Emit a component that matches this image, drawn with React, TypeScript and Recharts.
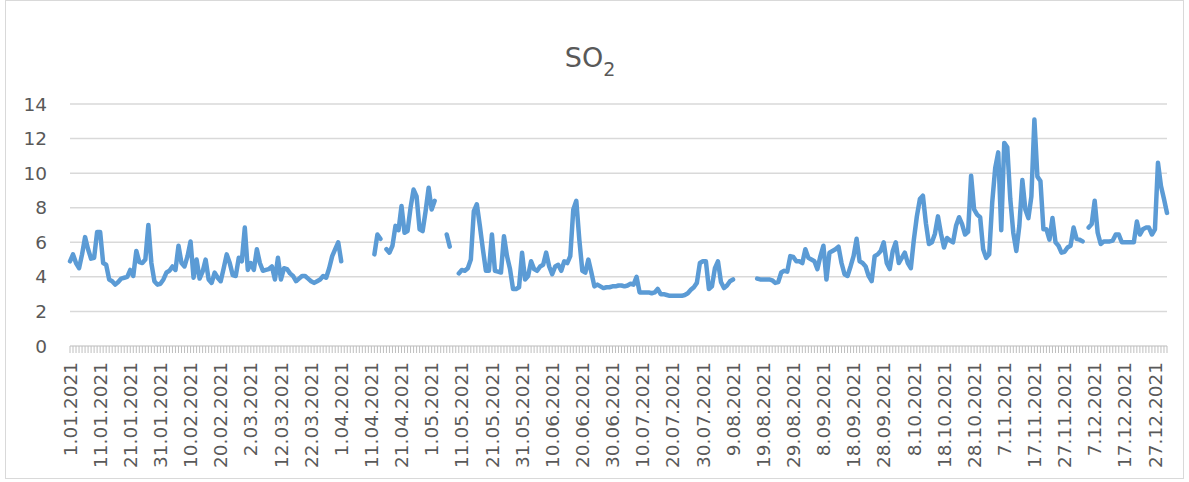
import { LineChart, Line, XAxis, YAxis, CartesianGrid } from "recharts";

// daily SO2 readings for 2021, null where the station has no data
const jan = [4.9, 5.3, 4.8, 4.5, 5.3, 6.3, 5.6, 5.05, 5.1, 6.6, 6.6, 4.8, 4.7, 3.85, 3.75, 3.55, 3.7, 3.9, 3.95, 4.0, 4.4, 4.05, 5.5, 4.85, 4.8, 5.0, 7.0, 4.8, 3.75, 3.55, 3.6];
const feb = [3.85, 4.25, 4.35, 4.6, 4.4, 5.8, 4.8, 4.6, 5.2, 6.05, 3.95, 5.0, 3.9, 4.3, 5.0, 3.85, 3.65, 4.25, 3.95, 3.75, 4.5, 5.3, 4.8, 4.1, 4.05, 5.1, 4.9, 6.85];
const mar = [4.4, 4.8, 4.4, 5.6, 4.8, 4.35, 4.4, 4.45, 4.6, 3.85, 5.1, 3.85, 4.5, 4.45, 4.2, 4.05, 3.75, 3.9, 4.05, 4.05, 3.9, 3.75, 3.65, 3.75, 3.85, 4.05, 3.95, 4.5, 5.2, 5.6, 6.0];
const apr = [4.9, null, null, null, null, null, null, null, null, null, null, 5.3, 6.45, 6.2, null, 5.6, 5.4, 5.8, 6.95, 6.7, 8.1, 6.55, 6.65, 8.0, 9.05, 8.65, 6.75, 6.65, 7.8, 9.15];
const may = [7.9, 8.4, null, null, null, 6.45, 5.75, null, null, 4.2, 4.4, 4.35, 4.5, 5.0, 7.8, 8.2, 6.95, 5.6, 4.35, 4.35, 6.45, 4.35, 4.3, 4.25, 6.35, 5.2, 4.45, 3.3, 3.3, 3.4, 5.4];
const jun = [3.85, 4.05, 4.9, 4.45, 4.35, 4.6, 4.7, 5.4, 4.6, 4.15, 4.6, 4.7, 4.35, 4.9, 4.8, 5.2, 7.9, 8.4, 6.15, 4.35, 4.25, 5.0, 4.25, 3.45, 3.55, 3.45, 3.35, 3.4, 3.4, 3.45];
const jul = [3.45, 3.5, 3.5, 3.45, 3.5, 3.6, 3.55, 4.0, 3.1, 3.1, 3.1, 3.1, 3.05, 3.1, 3.3, 3.0, 3.0, 2.95, 2.9, 2.9, 2.9, 2.9, 2.9, 2.95, 3.05, 3.25, 3.4, 3.65, 4.8, 4.9, 4.9];
const aug = [3.3, 3.45, 4.5, 4.9, 3.7, 3.35, 3.5, 3.75, 3.85, null, null, null, null, null, null, null, 3.9, 3.85, 3.85, 3.85, 3.85, 3.8, 3.65, 3.7, 4.25, 4.35, 4.3, 5.2, 5.15, 4.9, 4.9];
const sep = [4.8, 5.6, 5.1, 5.0, 4.9, 4.45, 5.2, 5.8, 3.85, 5.4, 5.5, 5.6, 5.75, 4.8, 4.15, 4.05, 4.6, 5.2, 6.2, 4.9, 4.8, 4.6, 4.05, 3.75, 5.2, 5.3, 5.5, 6.0, 4.8, 4.45];
const oct = [5.5, 6.0, 4.8, 5.1, 5.4, 4.8, 4.5, 6.15, 7.5, 8.5, 8.7, 7.1, 5.9, 6.0, 6.5, 7.5, 6.5, 5.7, 6.25, 6.1, 6.0, 6.95, 7.45, 7.05, 6.45, 6.6, 9.85, 7.9, 7.6, 7.45, 5.6];
const nov = [5.1, 5.3, 8.3, 10.3, 11.2, 6.7, 11.75, 11.5, 8.5, 6.55, 5.5, 6.95, 9.6, 7.9, 7.4, 8.65, 13.1, 9.8, 9.55, 6.75, 6.75, 6.15, 7.4, 6.0, 5.8, 5.4, 5.45, 5.7, 5.8, 6.85];
const dec = [6.2, 6.15, 6.05, null, 6.85, 7.05, 8.4, 6.55, 5.9, 6.05, 6.05, 6.05, 6.1, 6.45, 6.45, 6.0, 6.0, 6.0, 6.0, 6.0, 7.2, 6.45, 6.75, 6.85, 6.85, 6.45, 6.75, 10.6, 9.25, 8.5, 7.7];

const months = [jan, feb, mar, apr, may, jun, jul, aug, sep, oct, nov, dec];
const yTicks = [0, 2, 4, 6, 8, 10, 12, 14];

// category labels like "1.01.2021"
const dates: string[] = [];
months.forEach((m, mi) => {
  m.forEach((_, di) => {
    dates.push(`${di + 1}.${String(mi + 1).padStart(2, "0")}.2021`);
  });
});
const so2 = months.flat();
const data = dates.map((d, i) => ({ date: d, so2: so2[i] }));

const FONT = "DejaVu Sans";
const GREY = "#595959";

function DateTick(props: any) {
  const { x, y, payload } = props;
  const idx = props.index ?? payload.index;
  if (idx % 10 !== 0) return <g />;
  return (
    <text
      x={x}
      y={y}
      transform={`rotate(-90 ${x} ${y})`}
      textAnchor="end"
      dy="0.36em"
      fill={GREY}
      fontSize={18.5}
      fontFamily={FONT}
    >
      {payload.value}
    </text>
  );
}

export default function App() {
  return (
    <div style={{ position: "absolute", left: 0, top: 0, width: 1189, height: 482, background: "#fff" }}>
      <div
        style={{
          position: "absolute",
          left: 5,
          top: 0,
          width: 1179,
          height: 479,
          border: "1px solid #d9d9d9",
          boxSizing: "border-box",
        }}
      />
      <svg width={1189} height={100} style={{ position: "absolute", left: 0, top: 0 }}>
        <text x={590} y={67} textAnchor="middle" fill={GREY} fontSize={27} fontFamily={FONT}>
          SO
          <tspan dy={9} fontSize={19}>2</tspan>
        </text>
      </svg>
      <div style={{ position: "absolute", left: 0, top: 0 }}>
        <LineChart width={1189} height={482} data={data} margin={{ top: 104, right: 22, bottom: 0, left: 0 }}>
          <CartesianGrid vertical={false} stroke="#d9d9d9" strokeWidth={1.5} />
          <XAxis
            dataKey="date"
            interval={0}
            height={136}
            stroke="#d9d9d9"
            tickLine={{ stroke: "#bfbfbf", strokeWidth: 1 }}
            tickSize={7}
            tickMargin={9}
            tick={<DateTick />}
          />
          <YAxis
            domain={[0, 14]}
            ticks={yTicks}
            width={70}
            axisLine={false}
            tickLine={false}
            tickSize={0}
            tickMargin={23}
            tick={{ fill: GREY, fontSize: 18.5, fontFamily: FONT }}
          />
          <Line
            type="linear"
            dataKey="so2"
            stroke="#5b9bd5"
            strokeWidth={4.5}
            strokeLinejoin="round"
            strokeLinecap="round"
            dot={false}
            isAnimationActive={false}
          />
        </LineChart>
      </div>
    </div>
  );
}
